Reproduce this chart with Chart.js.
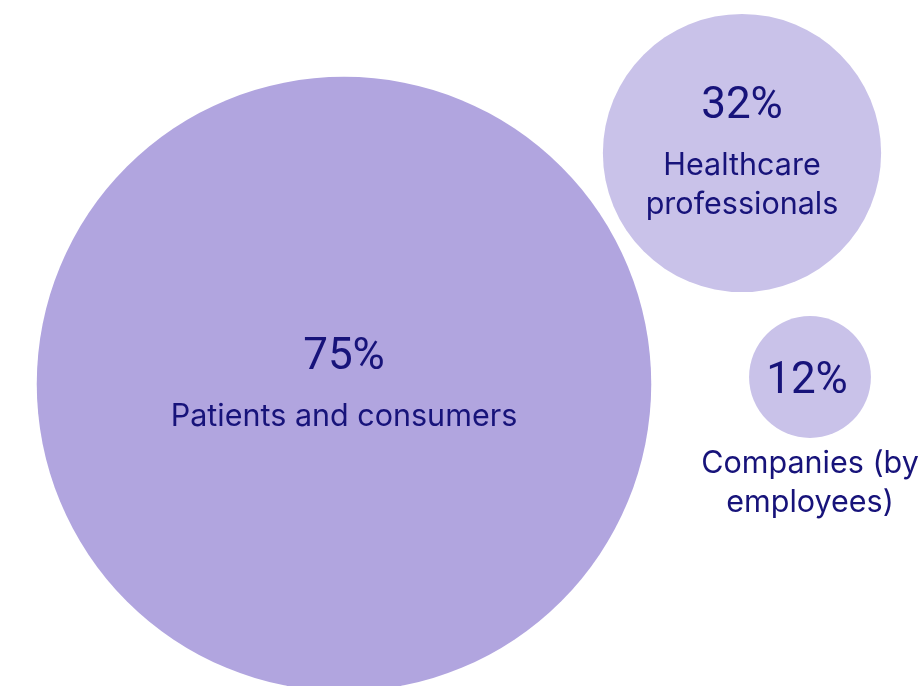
<!DOCTYPE html>
<html>
<head>
<meta charset="utf-8">
<script src="https://cdn.jsdelivr.net/npm/chart.js@4/dist/chart.umd.min.js"></script>
<style>
  html, body { margin: 0; padding: 0; background: #ffffff; }
  canvas { display: block; }
</style>
</head>
<body>
<canvas id="chart" width="923" height="686"></canvas>
<script>
// Audience reach by group (share, %)
const categories = [
  ['Patients and consumers'],
  ['Healthcare', 'professionals'],
  ['Companies (by', 'employees)']
];
const shares = [75, 32, 12];

// Bubble placement on a pixel-like grid (x: 0..923, y: 0..686 top-down)
const centersX = [344, 742, 810];
const centersY = [384, 153, 377];
const labelPlacement = ['inside', 'inside', 'below'];

const fills = ['#b1a5df', '#c9c2e9', '#c9c2e9'];
const inkColor = '#17137a';
const valueFont = '400 44px Roboto, Inter, "Noto Sans", Arial, sans-serif';
const labelFont = '400 30.5px Inter, "Noto Sans", Arial, sans-serif';

// radius grows linearly with the share
const radiusFor = v => 3.91 * v + 14;

const bubbleLabels = {
  id: 'bubbleLabels',
  afterDatasetsDraw(chart) {
    const ctx = chart.ctx;
    const meta = chart.getDatasetMeta(0);
    ctx.save();
    ctx.fillStyle = inkColor;
    ctx.textAlign = 'center';
    ctx.textBaseline = 'alphabetic';
    meta.data.forEach((pt, i) => {
      const lines = categories[i];
      const r = radiusFor(shares[i]);
      const cx = pt.x, cy = pt.y;
      const valueText = shares[i] + '%';
      const valueCap = 32, valueGap = 57, lineGap = 39;
      if (labelPlacement[i] === 'inside') {
        const h = valueCap + valueGap + lineGap * (lines.length - 1);
        const top = cy - h / 2 - 3;
        ctx.font = valueFont;
        ctx.fillText(valueText, cx, top + valueCap);
        ctx.font = labelFont;
        lines.forEach((ln, k) => ctx.fillText(ln, cx, top + valueCap + valueGap + k * lineGap));
      } else {
        ctx.font = valueFont;
        ctx.fillText(valueText, cx - 3, cy + valueCap / 2);
        ctx.font = labelFont;
        lines.forEach((ln, k) => ctx.fillText(ln, cx, cy + r + 35 + k * lineGap));
      }
    });
    ctx.restore();
  }
};

new Chart(document.getElementById('chart'), {
  type: 'bubble',
  data: {
    labels: categories.map(c => c.join(' ')),
    datasets: [{
      data: shares.map((v, i) => ({ x: centersX[i], y: centersY[i], v })),
      backgroundColor: fills,
      borderWidth: 0,
      hoverBorderWidth: 0,
      radius: ctx => radiusFor(shares[ctx.dataIndex]),
      clip: false
    }]
  },
  options: {
    responsive: false,
    animation: false,
    events: [],
    layout: { padding: 0, autoPadding: false },
    plugins: {
      legend: { display: false },
      tooltip: { enabled: false },
      title: { display: false }
    },
    scales: {
      x: { type: 'linear', min: 0, max: 923, display: false },
      y: { type: 'linear', min: 0, max: 686, reverse: true, display: false }
    }
  },
  plugins: [bubbleLabels]
});
</script>
</body>
</html>
